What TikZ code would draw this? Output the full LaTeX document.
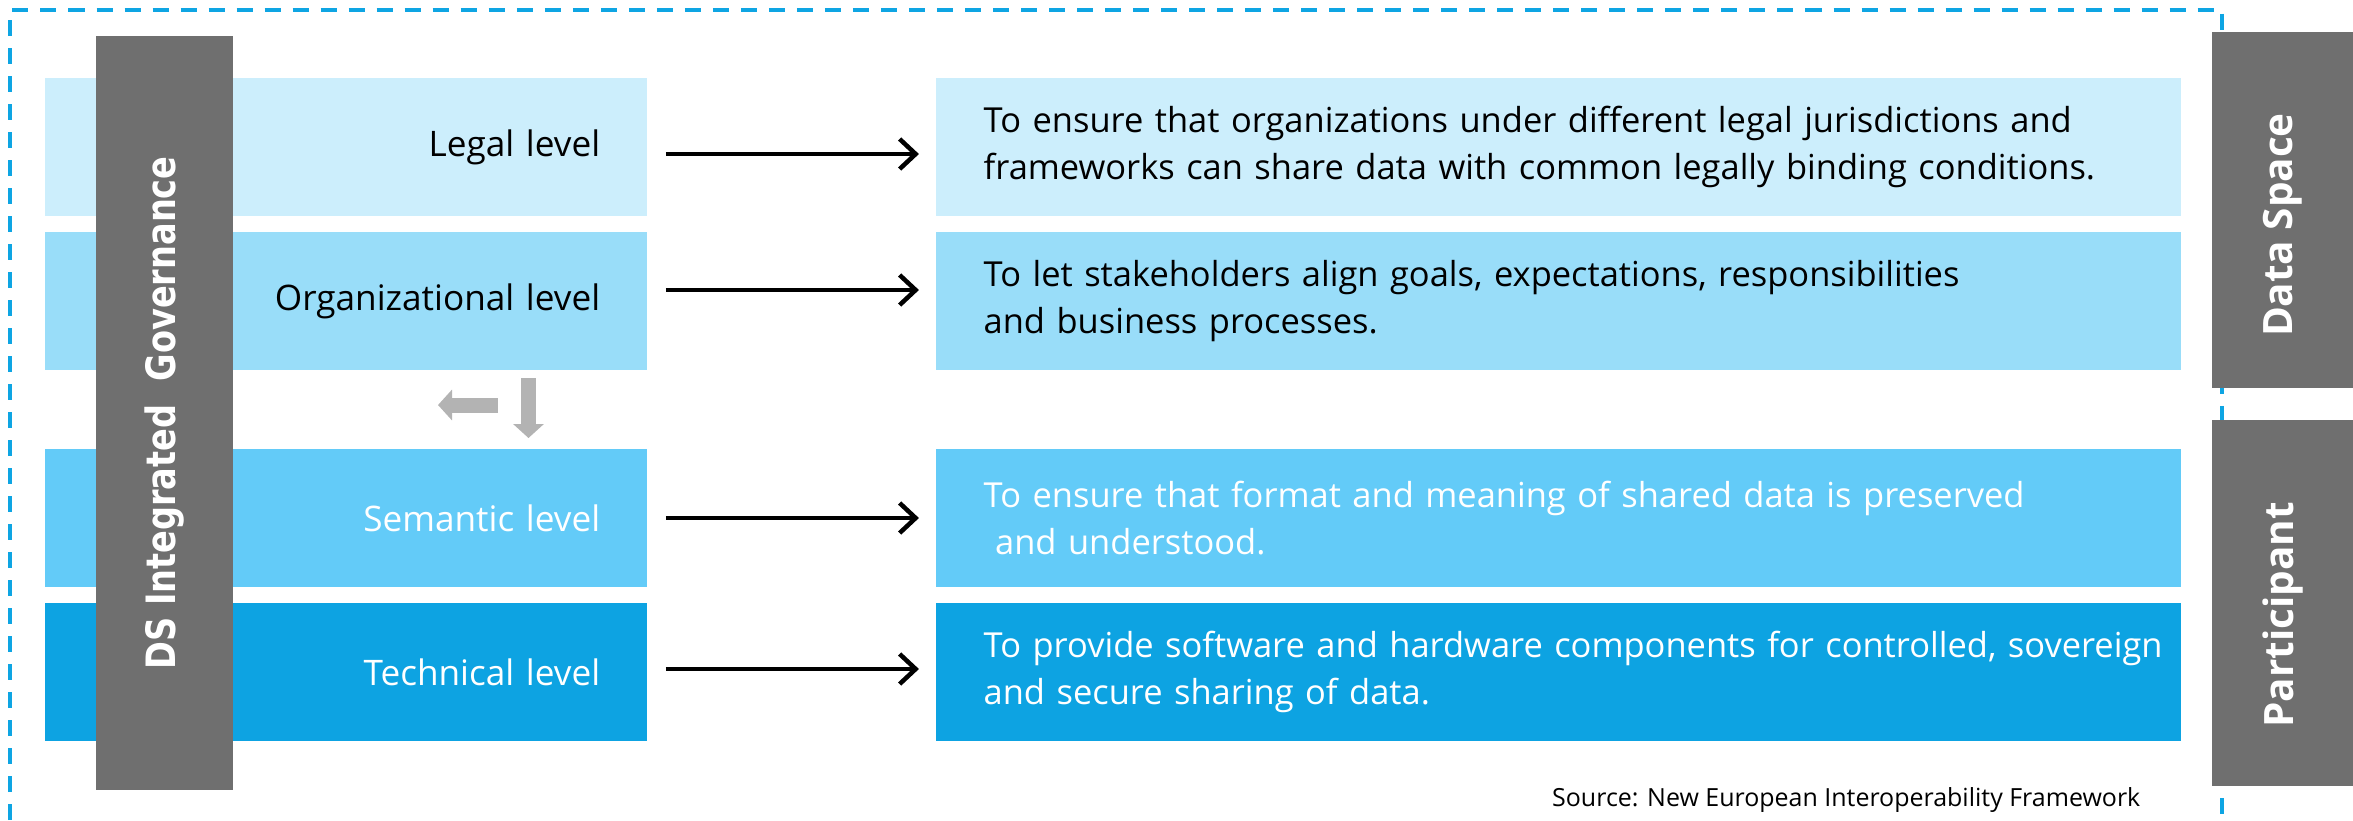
\documentclass[tikz,border=0pt]{standalone}
\usepackage{fontspec}
\setmainfont{Open Sans}
\newfontfamily\govfont{DejaVu Sans}[FakeStretch=0.83]
\usetikzlibrary{arrows.meta,calc,positioning}
\definecolor{frame}{HTML}{0EA5E3}
\definecolor{barg}{HTML}{6F6F6F}
\definecolor{lvlone}{HTML}{CCEEFC}
\definecolor{lvltwo}{HTML}{99DDF9}
\definecolor{lvlthree}{HTML}{63CBF8}
\definecolor{lvlfour}{HTML}{0DA3E2}
\definecolor{hint}{HTML}{B3B3B3}
\tikzset{lvl/.style={minimum width=6.02cm, minimum height=1.38cm, text width=5.08cm, inner xsep=.47cm, align=right, font=\fontsize{10}{12}\selectfont}, desc/.style={minimum width=12.45cm, minimum height=1.38cm, text width=12.45cm, inner xsep=0pt, align=left, execute at begin node={\leftskip=.48cm}, font=\fontsize{9.8}{13.4}\selectfont}, side/.style={fill=barg, text=white, rotate=90, inner sep=0pt}, link/.style={-{Straight Barb[length=.16cm,width=.3cm]}, line width=.045cm}, hintarrow/.style={-{Triangle[length=.14cm,width=.3cm]}, line width=.15cm, color=hint}}
\begin{document}
\begin{tikzpicture}[x=.01cm, y=-.01cm]
\useasboundingbox (0,0) rectangle (2353,820);
\draw[frame, line width=.035cm, dash pattern=on .16cm off .12cm] (10,820)--(10,10)--(2222,10)--(2222,820);
\node[lvl, fill=lvlone] (legal) at (346,147) {Legal level}; \node[lvl, fill=lvltwo] (org) at (346,301) {Organizational level};
\node[lvl, fill=lvlthree, text=white] (sem) at (346,518) {Semantic level}; \node[lvl, fill=lvlfour, text=white] (tech) at (346,672) {Technical level};
\node[desc, fill=lvlone] (legalD) at (1558.5,147) {To ensure that organizations under different legal jurisdictions and\\frameworks can share data with common legally binding conditions.};
\node[desc, fill=lvltwo] (orgD) at (1558.5,301) {To let stakeholders align goals, expectations, responsibilities\\and business processes.};
\node[desc, fill=lvlthree, text=white] (semD) at (1558.5,518) {To ensure that format and meaning of shared data is preserved\\\ and understood.};
\node[desc, fill=lvlfour, text=white] (techD) at (1558.5,672) {To provide software and hardware components for controlled, sovereign\\and secure sharing of data.};
\draw[link] ([shift={(18,7)}]legal.east) -- ([shift={(-16,7)}]legalD.west); \draw[link] ([shift={(18,-11)}]org.east) -- ([shift={(-16,-11)}]orgD.west);
\draw[link] ([shift={(18,0)}]sem.east) -- ([shift={(-16,0)}]semD.west); \draw[link] ([shift={(18,-3)}]tech.east) -- ([shift={(-16,-3)}]techD.west);
\node[side, minimum width=7.54cm, minimum height=1.37cm, font=\govfont\bfseries\fontsize{11.5}{13}\selectfont] (gov) at (164.5,413) {DS Integrated\ \ Governance};
\node[side, minimum width=3.56cm, minimum height=1.41cm, font=\bfseries\fontsize{11.5}{13}\selectfont] (space) at (2282.5,210) {Data Space\kern.3cm};
\node[side, minimum width=3.66cm, minimum height=1.41cm, font=\bfseries\fontsize{11.5}{13}\selectfont] (part) at (2282.5,603) {Participant\kern.24cm};
\coordinate (lt) at (498,405); \coordinate (lh) at (438,405); \draw[hintarrow] (lt) -- (lh);
\coordinate (dt) at (528.5,378); \coordinate (dh) at (528.5,438); \draw[hintarrow] (dt) -- (dh);
\node[font=\fontsize{7.1}{9}\selectfont, anchor=east, inner sep=0pt] (src) at (2141,800) {Source: New European Interoperability Framework};
\end{tikzpicture}
\end{document}
